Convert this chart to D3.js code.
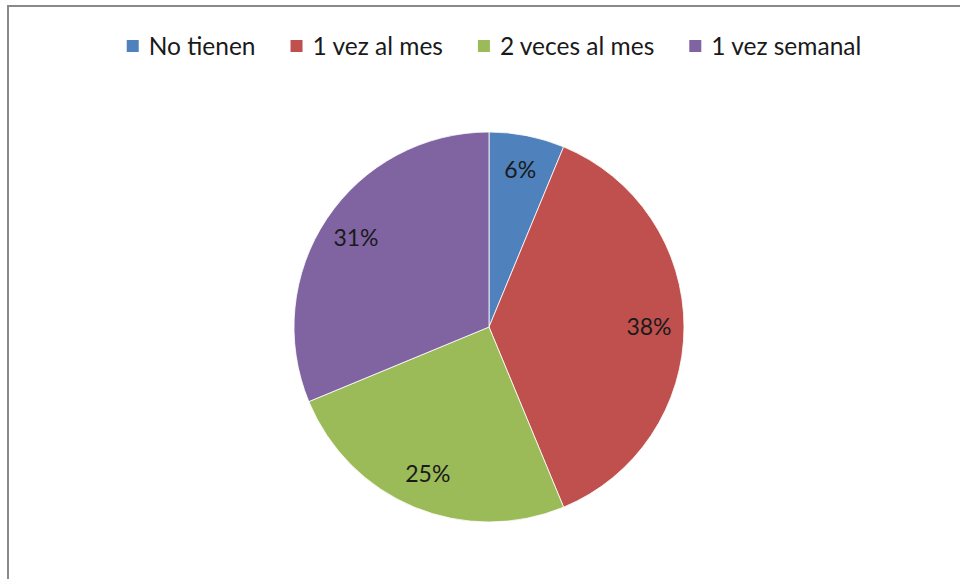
<!DOCTYPE html>
<html><head><meta charset="utf-8">
<script src="https://cdn.jsdelivr.net/npm/d3@7"></script>
<style>body{margin:0;background:#fff}svg{display:block}</style>
</head><body>
<svg id="c" width="960" height="579"></svg>
<script>
const categories = ["No tienen", "1 vez al mes", "2 veces al mes", "1 vez semanal"];
const values = [1, 6, 4, 5];
const percentLabels = ["6%", "38%", "25%", "31%"];
const colors = ["#4F81BD", "#C0504D", "#9BBB59", "#8064A2"];

const svg = d3.select("#c");
const W = 960, H = 579;
const font = "Lato, 'Open Sans', sans-serif";

// frame
svg.append("path").attr("d", `M8,${H} V6 H${W}`).attr("fill","none").attr("stroke","#898989").attr("stroke-width",2);

const cx = 489, cy = 327, R = 195;
const pie = d3.pie().sort(null).value(d => d)(values);
const arc = d3.arc().innerRadius(0).outerRadius(R);
const labelArc = d3.arc().innerRadius(160).outerRadius(160);
const g = svg.append("g").attr("transform", `translate(${cx},${cy})`);
g.selectAll("path").data(pie).join("path")
  .attr("d", arc).attr("fill", (d,i) => colors[i])
  .attr("stroke", "#fff").attr("stroke-width", 0.8);
g.selectAll("text").data(pie).join("text")
  .attr("transform", d => `translate(${labelArc.centroid(d)})`)
  .attr("text-anchor","middle").attr("dy","0.33em")
  .attr("font-family", font).attr("font-size", 23).attr("fill","#1a1a1a")
  .text((d,i) => percentLabels[i]);

// legend
const lg = svg.append("g");
const fs = 24.5;
const items = lg.selectAll("g").data(categories).join("g");
items.append("rect").attr("width",12).attr("height",12).attr("fill",(d,i)=>colors[i]);
items.append("text").attr("x",22).attr("y",6).attr("dy","0.35em")
  .attr("font-family",font).attr("font-size",fs).attr("fill","#1a1a1a").text(d=>d);
let x = 0; const xs = [];
items.each(function(){ const w = d3.select(this).select("text").node().getComputedTextLength(); xs.push(x); x += 22 + w + 35; });
const total = x - 35;
const x0 = 494 - total/2;
items.attr("transform",(d,i)=>`translate(${x0+xs[i]},40)`);
</script>
</body></html>
